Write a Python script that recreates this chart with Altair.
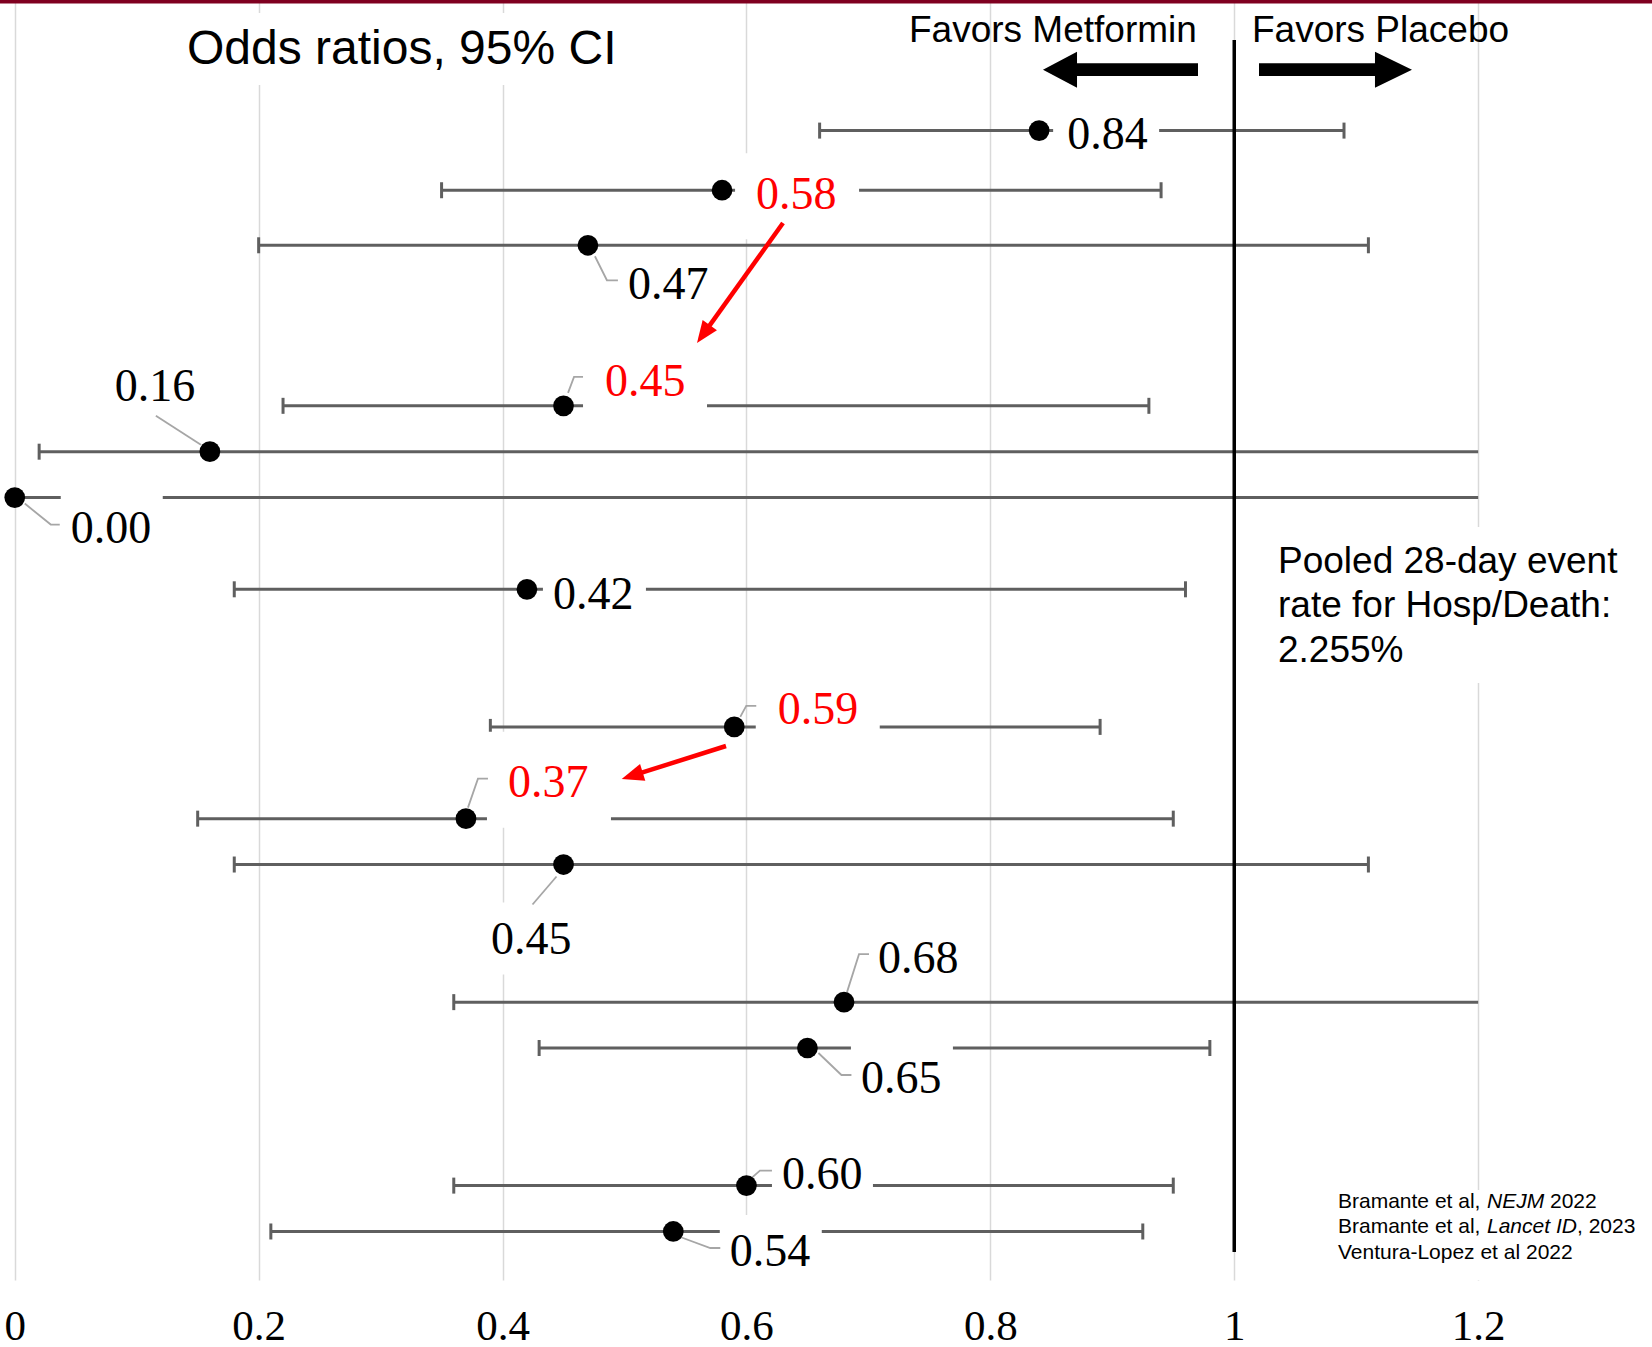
import altair as alt
import pandas as pd

# ---------------- data ----------------
odds_ratio = [0.84, 0.58, 0.47, 0.45, 0.16, 0.00, 0.42, 0.59, 0.37, 0.45, 0.68, 0.65, 0.60, 0.54]
ci_low = [0.66, 0.35, 0.20, 0.22, 0.02, 0.00, 0.18, 0.39, 0.15, 0.18, 0.36, 0.43, 0.36, 0.21]
ci_high = [1.09, 0.94, 1.11, 0.93, 1.20, 1.20, 0.96, 0.89, 0.95, 1.11, 1.20, 0.98, 0.95, 0.925]
# upper limit runs past the axis end (drawn to 1.2, no cap)
ci_open_right = [False, False, False, False, True, True, False, False, False, False, True, False, False, False]
row_slot = [0, 1.3, 2.5, 6, 7, 8, 10, 13, 15, 16, 19, 20, 23, 24]
highlight = [False, True, False, True, False, False, False, True, True, False, False, False, False, False]
x_ticks = [0, 0.2, 0.4, 0.6, 0.8, 1.0, 1.2]

title_text = "Odds ratios, 95% CI"
favors_left = "Favors Metformin"
favors_right = "Favors Placebo"
pooled_lines = ["Pooled 28-day event", "rate for Hosp/Death:", "2.255%"]

# ---------------- layout (pixels) ----------------
W, H = 1652, 1280
X0_PX, PX_PER_X = 14.75, 1219.5
R0_PX, PX_PER_ROW = 130.6, 45.87


def xv(px):
    return (px - X0_PX) / PX_PER_X


def rv(py):
    return (py - R0_PX) / PX_PER_ROW


# label anchor offsets from the point (left edge, vertical centre), px
label_dx = [28, 34, 40, 41.5, -95, 56, 26, 43.5, 42, -72.5, 34, 53.5, 35.5, 56.5]
label_dy = [2.5, 3, 38, -26, -66.5, 29.5, 4, -18.5, -37, 74, -45, 29, -12.5, 18.5]
LABEL_W = 81
# white label boxes: pad left, pad right, above, below (px)
label_box = [
    (14, 11, 36, 36), (21, 22, 40, 46), (10, 10, 30, 36), (22, 21, 36, 36),
    (10, 10, 36, 36), (10, 11, 36, 36), (10, 12, 36, 36), (22, 21, 36, 36),
    (21, 22, 50, 46), (12, 12, 36, 36), (10, 10, 36, 36), (10, 11, 36, 36),
    (10, 10, 36, 36), (10, 11, 35, 36),
]
# leader polylines, offsets from the point (px)
leaders = [
    None, None,
    [(7, 11), (19, 35), (30, 35)],
    [(4.5, -13), (10.5, -29), (19.5, -29)],
    [(-54, -36), (-9, -7)],
    [(10, 6), (36, 27), (45, 27)],
    None,
    [(6, -10), (12, -21), (22, -21)],
    [(2, -11), (12, -40), (22, -40)],
    [(-7, 12), (-31, 40)],
    [(3, -10), (15, -48), (25, -48)],
    [(11, 5), (34, 27), (44, 27)],
    [(5.5, -8), (13.5, -15), (25.5, -15)],
    [(7, 5.5), (37, 16.5), (47, 16.5)],
]

# ---------------- tables ----------------
df = pd.DataFrame({"or": odds_ratio, "lo": ci_low, "hi": ci_high,
                   "open": ci_open_right, "row": row_slot, "hl": highlight})

caps = []
for i in range(len(odds_ratio)):
    caps.append({"x": ci_low[i], "row": row_slot[i]})
    if not ci_open_right[i]:
        caps.append({"x": ci_high[i], "row": row_slot[i]})
cap_df = pd.DataFrame(caps)

lab, box, lead = [], [], []
for i, v in enumerate(odds_ratio):
    px = X0_PX + v * PX_PER_X
    py = R0_PX + row_slot[i] * PX_PER_ROW
    lx = px + label_dx[i]
    cy = py + label_dy[i]
    lab.append({"lx": xv(lx), "ly": rv(cy + 1.7), "txt": f"{v:.2f}",
                "col": "#ff0000" if highlight[i] else "#000000"})
    pl, pr, ab, be = label_box[i]
    box.append({"bx1": xv(lx - pl), "bx2": xv(lx + LABEL_W + pr),
                "by1": rv(cy - ab), "by2": rv(cy + be)})
    if leaders[i]:
        for s, (dx, dy) in enumerate(leaders[i]):
            lead.append({"id": i, "seq": s, "x": xv(px + dx), "row": rv(py + dy)})
lab_df = pd.DataFrame(lab)
box_df = pd.DataFrame(box)
lead_df = pd.DataFrame(lead)
one = pd.DataFrame({"k": [0]})

# ---------------- scales ----------------
x_scale = alt.Scale(domain=[xv(0), xv(W)], nice=False, zero=False)
y_scale = alt.Scale(domain=[rv(0), rv(H)], nice=False, zero=False, reverse=True)
x_axis = alt.Axis(values=x_ticks, format="~g", grid=True, gridColor="#d9d9d9", gridWidth=1.5,
                  domain=False, ticks=False, tickSize=0, labelPadding=25,
                  labelFont="Liberation Serif", labelFontSize=43, labelColor="black",
                  labelFlush=False, title=None)


def X(f):
    return alt.X(f, type="quantitative", scale=x_scale, axis=x_axis, title=None)


def Y(f):
    return alt.Y(f, type="quantitative", scale=y_scale, axis=None)


GRAY = "#5f5f5f"

ci = alt.Chart(df).mark_rule(color=GRAY, strokeWidth=3).encode(
    x=X("lo"), x2="hi", y=Y("row"))
cap_layer = alt.Chart(cap_df).mark_tick(orient="vertical", size=16, thickness=3,
                                        color=GRAY, opacity=1).encode(x=X("x"), y=Y("row"))
box_layer = alt.Chart(box_df).mark_rect(color="white").encode(
    x=X("bx1"), x2="bx2", y=Y("by1"), y2="by2")
lead_layer = alt.Chart(lead_df).mark_line(color="#a6a6a6", strokeWidth=1.8).encode(
    x=X("x"), y=Y("row"), detail="id:N", order="seq:Q")
pts = alt.Chart(df).mark_circle(size=430, color="black", opacity=1).encode(x=X("or"), y=Y("row"))
labels = alt.Chart(lab_df).mark_text(align="left", baseline="middle", font="Liberation Serif",
                                     fontSize=46).encode(
    x=X("lx"), y=Y("ly"), text="txt:N", color=alt.Color("col:N", scale=None))
one_line = alt.Chart(pd.DataFrame({"v": [1.0]})).mark_rule(color="black", strokeWidth=3.5).encode(
    x=X("v"), y=alt.value(40), y2=alt.value(1252))


def wbox(x1, x2, y1, y2, color="white"):
    return alt.Chart(one).mark_rect(color=color).encode(
        x=alt.value(x1), x2=alt.value(x2), y=alt.value(y1), y2=alt.value(y2))


def txt(s, x, y, size, font="Liberation Sans", baseline="middle", color="black", style="normal"):
    return alt.Chart(one).mark_text(text=s, align="left", baseline=baseline, font=font,
                                    fontSize=size, color=color, fontStyle=style).encode(
        x=alt.value(x), y=alt.value(y))


def sym(path, size, x, y, color, angle=0):
    return alt.Chart(one).mark_point(shape=path, size=size, filled=True, color=color,
                                     opacity=1, strokeWidth=0, angle=angle).encode(
        x=alt.value(x), y=alt.value(y))


def shaft(x1, y1, x2, y2, color="red", w=4.5):
    return alt.Chart(one).mark_rule(color=color, strokeWidth=w).encode(
        x=alt.value(x1), y=alt.value(y1), x2=alt.value(x2), y2=alt.value(y2))


HEAD = "M 1 0 L -1 -0.8 L -1 0.8 Z"
ARROW_L = "M -1 0 L -0.561 -0.232 L -0.561 -0.082 L 1 -0.082 L 1 0.082 L -0.561 0.082 L -0.561 0.232 Z"
ARROW_R = "M 1 0 L 0.516 -0.235 L 0.516 -0.083 L -1 -0.083 L -1 0.083 L 0.516 0.083 L 0.516 0.235 Z"

layers = [
    ci, cap_layer, box_layer,
    wbox(170, 630, 13, 85),        # title box
    wbox(1265, 1640, 527, 683),    # pooled note box
    wbox(1330, 1645, 1190, 1280),  # references box
    one_line, lead_layer, pts, labels,
    shaft(783, 223, 703.4, 334.1), sym(HEAD, 484, 703.4, 334.1, "red", 125.6),
    shaft(726, 746, 632.2, 775.7), sym(HEAD, 484, 632.2, 775.7, "red", 162.45),
    sym(ARROW_L, 24025, 1120.5, 69.7, "black"),
    sym(ARROW_R, 23409, 1335.5, 69.7, "black"),
    txt(title_text, 187, 50, 48),
    txt(favors_left, 909, 30.5, 37),
    txt(favors_right, 1252, 30.5, 37),
    txt(pooled_lines[0], 1278, 572.5, 37, baseline="alphabetic"),
    txt(pooled_lines[1], 1278, 617.3, 37, baseline="alphabetic"),
    txt(pooled_lines[2], 1278, 661.7, 37, baseline="alphabetic"),
    txt("Bramante et al, ", 1338, 1207.5, 21, baseline="alphabetic"),
    txt("NEJM", 1487, 1207.5, 21, baseline="alphabetic", style="italic"),
    txt("2022", 1550, 1207.5, 21, baseline="alphabetic"),
    txt("Bramante et al, ", 1338, 1233, 21, baseline="alphabetic"),
    txt("Lancet ID", 1487, 1233, 21, baseline="alphabetic", style="italic"),
    txt(", 2023", 1577, 1233, 21, baseline="alphabetic"),
    txt("Ventura-Lopez et al 2022", 1338, 1259, 21, baseline="alphabetic"),
    wbox(0, W, 0, 3.5, color="#7f0020"),
]

chart = alt.layer(*layers).properties(width=W, height=H, padding=0,
                                      background="white").configure_view(stroke=None)

chart.save("out.html", embed_options={"renderer": "svg", "actions": False})
